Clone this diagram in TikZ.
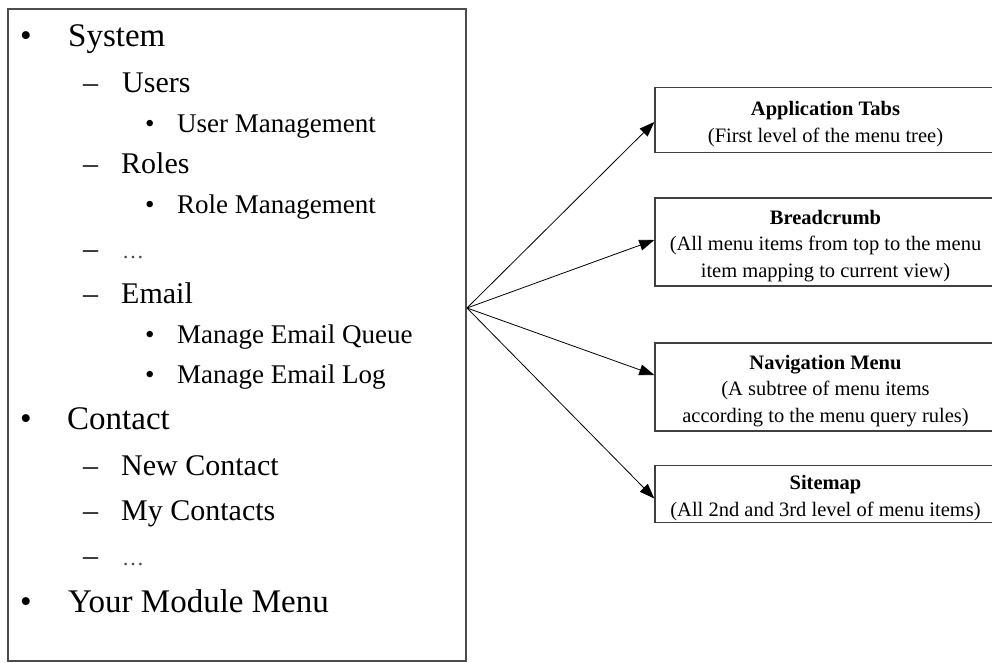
\documentclass[tikz,border=0pt]{standalone}
\usepackage{fontspec}
\setmainfont{Liberation Serif}
\usetikzlibrary{arrows.meta}
% extra room above the title line of each view box
\newcommand{\boxstrut}{\rule{0pt}{22pt}}

\begin{document}
\begin{tikzpicture}[x=1pt,y=-1pt,
  lvlone/.style={anchor=base west, inner sep=0pt, font=\fontsize{33}{36}\selectfont},
  lvltwo/.style={anchor=base west, inner sep=0pt, font=\fontsize{30}{33}\selectfont},
  lvlthree/.style={anchor=base west, inner sep=0pt, font=\fontsize{27}{30}\selectfont},
  dots/.style={anchor=base west, inner sep=0pt, font=\fontsize{22}{24}\selectfont, text=black!70},
  frame/.style={draw=black!70, line width=1.4pt, inner sep=0pt},
  target/.style={draw=black!75, line width=1.4pt, align=center, inner sep=0pt,
                 minimum width=341pt, font=\fontsize{20.5}{26.5}\selectfont},
  link/.style={line width=0.8pt, -{Triangle[length=15pt,width=11pt]}}
]
\useasboundingbox (0,0) rectangle (992,662);
\fill[white] (0,0) rectangle (992,662);

% menu tree panel
\node[frame, minimum width=458pt, minimum height=652pt] (menu) at (237,335) {};

\node[lvlone]   (b1)  at (20,46)  {•};
\node[lvlone]   (sys) at (68,46)  {System};
\node[lvltwo]   (d1)  at (83,92)  {–};
\node[lvltwo]   (usr) at (122,92) {Users};
\node[lvlthree] (b2)  at (145,132) {•};
\node[lvlthree] (um)  at (177,132) {User Management};
\node[lvltwo]   (d2)  at (83,173) {–};
\node[lvltwo]   (rol) at (121,173) {Roles};
\node[lvlthree] (b3)  at (145,213) {•};
\node[lvlthree] (rm)  at (177,213) {Role Management};
\node[lvltwo]   (d3)  at (83,258) {–};
\node[dots]     (e1)  at (122,258) {…};
\node[lvltwo]   (d4)  at (83,303) {–};
\node[lvltwo]   (eml) at (121,303) {Email};
\node[lvlthree] (b4)  at (145,343) {•};
\node[lvlthree] (meq) at (177,343) {Manage Email Queue};
\node[lvlthree] (b5)  at (145,383) {•};
\node[lvlthree] (mel) at (177,383) {Manage Email Log};
\node[lvlone]   (b6)  at (20,429) {•};
\node[lvlone]   (con) at (67,429) {Contact};
\node[lvltwo]   (d5)  at (83,475) {–};
\node[lvltwo]   (nc)  at (121,475) {New Contact};
\node[lvltwo]   (d6)  at (83,520) {–};
\node[lvltwo]   (mc)  at (121,520) {My Contacts};
\node[lvltwo]   (d7)  at (83,565) {–};
\node[dots]     (e2)  at (122,565) {…};
\node[lvlone]   (b7)  at (20,612) {•};
\node[lvlone]   (ymm) at (68,612) {Your Module Menu};

% views fed by the menu tree
\node[target, minimum height=65pt] (tabs) at (825.5,120)
  {\boxstrut\textbf{Application Tabs}\\(First level of the menu tree)};
\node[target, minimum height=88pt] (crumb) at (825.5,242)
  {\boxstrut\textbf{Breadcrumb}\\(All menu items from top to the menu\\item mapping to current view)};
\node[target, minimum height=88pt] (nav) at (825.5,387)
  {\boxstrut\textbf{Navigation Menu}\\(A subtree of menu items\\according to the menu query rules)};
\node[target, minimum height=57pt] (site) at (825.5,494)
  {\boxstrut\textbf{Sitemap}\\(All 2nd and 3rd level of menu items)};

% connectors
\coordinate (fan) at (467,308);
\draw[link] (fan) -- ([yshift=-2pt]tabs.west);
\draw[link] (fan) -- ([yshift=2pt]crumb.west);
\draw[link] (fan) -- ([yshift=12pt]nav.west);
\draw[link] (fan) -- ([yshift=-4.5pt]site.west);
\end{tikzpicture}
\end{document}
